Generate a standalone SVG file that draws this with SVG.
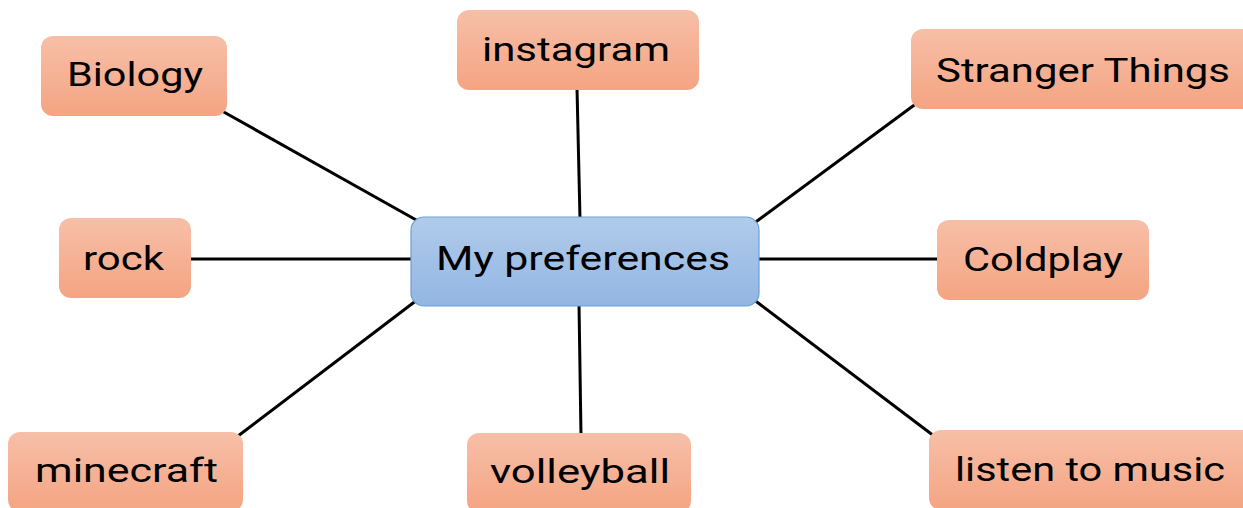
<svg xmlns="http://www.w3.org/2000/svg" width="1243" height="508" viewBox="0 0 1243 508">
<defs>
<linearGradient id="gO" x1="0" y1="0" x2="0" y2="1">
<stop offset="0" stop-color="#f7bfa8"/>
<stop offset="1" stop-color="#f4a482"/>
</linearGradient>
<linearGradient id="gB" x1="0" y1="0" x2="0" y2="1">
<stop offset="0" stop-color="#b1cbea"/>
<stop offset="1" stop-color="#92b6e3"/>
</linearGradient>
</defs>
<style>
.con line{stroke:#000;stroke-width:3;stroke-linecap:butt}
.leaf{fill:url(#gO);stroke:none}
.center{fill:url(#gB);stroke:#6b9fd6;stroke-width:1.2}
text{font-family:"Roboto","Open Sans","Liberation Sans",sans-serif;font-size:34px;fill:#000;text-anchor:middle}
</style>
<rect width="1243" height="508" fill="#fff"/>
<g id="connectors" class="con">
<line x1="222" y1="111" x2="418" y2="221"/>
<line x1="577" y1="88" x2="580" y2="219"/>
<line x1="917" y1="103" x2="753" y2="224"/>
<line x1="190" y1="259" x2="413" y2="259"/>
<line x1="757" y1="259" x2="938" y2="259"/>
<line x1="238" y1="436" x2="417" y2="300"/>
<line x1="579" y1="304" x2="581" y2="436"/>
<line x1="753" y1="299" x2="934" y2="436"/>
</g>
<g id="center">
<rect class="center" x="411" y="217" width="348" height="89" rx="13"/>
<text x="583" y="270" font-size="36" textLength="294" lengthAdjust="spacingAndGlyphs">My preferences</text>
</g>
<g id="biology">
<rect class="leaf" x="41" y="36" width="186" height="80" rx="12"/>
<text x="135" y="86" textLength="136" lengthAdjust="spacingAndGlyphs">Biology</text>
</g>
<g id="instagram">
<rect class="leaf" x="457" y="10" width="242" height="80" rx="12"/>
<text x="576" y="61" textLength="188" lengthAdjust="spacingAndGlyphs">instagram</text>
</g>
<g id="stranger-things">
<rect class="leaf" x="911" y="29" width="345" height="80" rx="12"/>
<text x="1083" y="82" font-size="36" textLength="294" lengthAdjust="spacingAndGlyphs">Stranger Things</text>
</g>
<g id="rock">
<rect class="leaf" x="59" y="218" width="132" height="80" rx="12"/>
<text x="123.5" y="270" textLength="81" lengthAdjust="spacingAndGlyphs">rock</text>
</g>
<g id="coldplay">
<rect class="leaf" x="937" y="220" width="212" height="80" rx="12"/>
<text x="1043" y="271" textLength="160" lengthAdjust="spacingAndGlyphs">Coldplay</text>
</g>
<g id="minecraft">
<rect class="leaf" x="8" y="432" width="235" height="80" rx="12"/>
<text x="126.5" y="482" textLength="183" lengthAdjust="spacingAndGlyphs">minecraft</text>
</g>
<g id="volleyball">
<rect class="leaf" x="467" y="433" width="224" height="80" rx="12"/>
<text x="580" y="483" textLength="180" lengthAdjust="spacingAndGlyphs">volleyball</text>
</g>
<g id="listen-to-music">
<rect class="leaf" x="929" y="430" width="330" height="80" rx="12"/>
<text x="1090" y="481" textLength="270" lengthAdjust="spacingAndGlyphs">listen to music</text>
</g>
</svg>
